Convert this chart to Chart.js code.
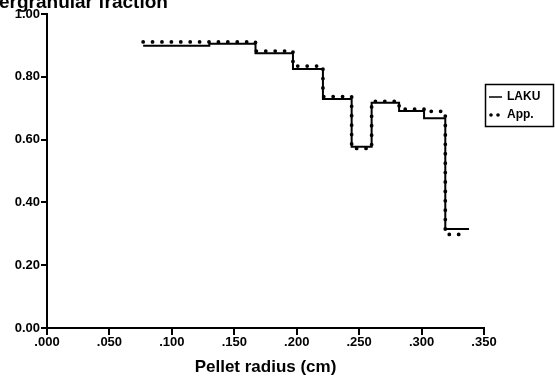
<!DOCTYPE html>
<html>
<head>
<meta charset="utf-8">
<script src="https://cdn.jsdelivr.net/npm/chart.js@4.4.1/dist/chart.umd.min.js"></script>
<style>
  html, body { margin: 0; padding: 0; background: #fff; overflow: hidden; }
  canvas { display: block; }
</style>
</head>
<body>
<canvas id="fractionChart" width="555" height="378"></canvas>
<script>
// ========== Data ==========
// radial zone edges (cm); each value holds from its edge to the next one
const zoneEdges = [0.077, 0.130, 0.167, 0.197, 0.221, 0.244, 0.260, 0.282, 0.302, 0.319];
const lakuEnd = 0.338;
const appEnd = 0.333;
const lakuValues = [0.899, 0.905, 0.875, 0.825, 0.729, 0.577, 0.717, 0.691, 0.668, 0.315];
const appValues = [0.911, 0.911, 0.882, 0.834, 0.737, 0.572, 0.722, 0.697, 0.690, 0.298];

const xTicks = [0, 0.05, 0.10, 0.15, 0.20, 0.25, 0.30, 0.35];
const yTicks = [0, 0.2, 0.4, 0.6, 0.8, 1.0];

const FONT = '"Liberation Sans", Arial, sans-serif';

function toSteps(values, end) {
  const pts = values.map((v, i) => ({ x: zoneEdges[i], y: v }));
  pts.push({ x: end, y: values[values.length - 1] });
  return pts;
}

// ========== Extra text: cut-off title + boxed legend ==========
const decorations = {
  id: 'decorations',
  afterDraw(chart) {
    const ctx = chart.ctx;
    ctx.save();
    ctx.fillStyle = '#000';
    ctx.font = 'bold 19px ' + FONT;
    ctx.textBaseline = 'alphabetic';
    const lead = ctx.measureText('Int').width;
    ctx.fillText('Intergranular fraction', -lead - 1, 8);

    // legend box
    ctx.strokeStyle = '#000';
    ctx.lineWidth = 1.5;
    ctx.strokeRect(485.5, 84.5, 68, 42);

    ctx.font = 'bold 12px ' + FONT;
    ctx.textBaseline = 'middle';
    ctx.lineWidth = 1.5;
    ctx.beginPath();
    ctx.moveTo(489, 97);
    ctx.lineTo(502, 97);
    ctx.stroke();
    ctx.fillText('LAKU', 507, 97);

    [491, 498].forEach(x => {
      ctx.beginPath();
      ctx.arc(x, 115, 1.8, 0, Math.PI * 2);
      ctx.fill();
    });
    ctx.fillText('App.', 507, 115);
    ctx.restore();
  }
};

// ========== Chart ==========
new Chart(document.getElementById('fractionChart'), {
  type: 'line',
  data: {
    datasets: [
      {
        label: 'App.',
        data: toSteps(appValues, appEnd),
        stepped: 'before',
        borderColor: '#000',
        borderWidth: 3.8,
        borderCapStyle: 'round',
        borderDash: [0.01, 9.4],
        pointRadius: 0,
        fill: false
      },
      {
        label: 'LAKU',
        data: toSteps(lakuValues, lakuEnd),
        stepped: 'before',
        borderColor: '#000',
        borderWidth: 2,
        pointRadius: 0,
        fill: false
      }
    ]
  },
  options: {
    responsive: false,
    animation: false,
    layout: { padding: { top: 14, right: 71, left: 0, bottom: 0 } },
    plugins: { legend: { display: false }, tooltip: { enabled: false } },
    scales: {
      x: {
        type: 'linear',
        min: 0,
        max: 0.35,
        afterBuildTicks: s => { s.ticks = xTicks.map(v => ({ value: v })); },
        afterFit: s => { s.height = 50; },
        ticks: {
          color: '#000',
          font: { family: FONT, size: 13, weight: 'bold' },
          padding: 0,
          maxRotation: 0,
          callback: v => Number(v).toFixed(3).replace(/^0/, '')
        },
        grid: { drawOnChartArea: false, drawTicks: true, tickLength: 7, color: '#000', lineWidth: 2 },
        border: { color: '#000', width: 2 },
        title: {
          display: true,
          text: 'Pellet radius (cm)',
          color: '#000',
          font: { family: FONT, size: 17, weight: 'bold' },
          padding: { top: 0, bottom: 0 }
        }
      },
      y: {
        min: 0,
        max: 1,
        afterBuildTicks: s => { s.ticks = yTicks.map(v => ({ value: v })); },
        afterFit: s => { s.width = 47; },
        ticks: {
          color: '#000',
          font: { family: FONT, size: 13, weight: 'bold' },
          padding: 1,
          callback: v => Number(v).toFixed(2)
        },
        grid: { drawOnChartArea: false, drawTicks: true, tickLength: 6, color: '#000', lineWidth: 2 },
        border: { color: '#000', width: 2 }
      }
    }
  },
  plugins: [decorations]
});
</script>
</body>
</html>
